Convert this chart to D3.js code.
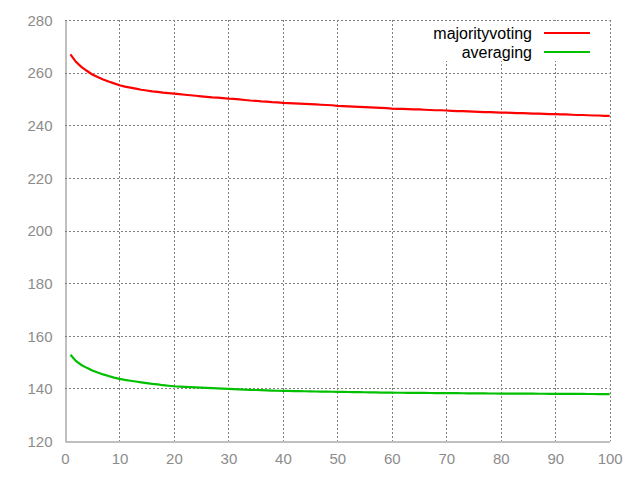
<!DOCTYPE html>
<html>
<head>
<meta charset="utf-8">
<script src="https://cdn.jsdelivr.net/npm/d3@7"></script>
<style>
html,body{margin:0;padding:0;background:#fff;}
svg{display:block;}
</style>
</head>
<body>
<svg id="chart" width="640" height="480"></svg>
<script>
const seriesNames = ["majorityvoting", "averaging"];
const seriesColors = ["#ff0000", "#00c000"];
const xTicks = [0,10,20,30,40,50,60,70,80,90,100];
const yTicks = [120,140,160,180,200,220,240,260,280];

const majorityvoting = [
266.9,264.1,262.2,260.7,259.3,258.3,257.4,256.6,255.9,255.2,
254.7,254.3,253.9,253.5,253.2,252.9,252.7,252.4,252.2,252.0,
251.8,251.6,251.4,251.2,251.0,250.8,250.6,250.5,250.3,250.1,
250.0,249.8,249.6,249.4,249.3,249.1,249.0,248.8,248.7,248.5,
248.4,248.3,248.2,248.1,248.0,247.9,247.8,247.7,247.6,247.4,
247.3,247.2,247.1,247.0,246.9,246.8,246.7,246.6,246.5,246.3,
246.2,246.2,246.1,246.0,246.0,245.9,245.8,245.7,245.7,245.6,
245.5,245.4,245.4,245.3,245.2,245.1,245.0,245.0,244.9,244.8,
244.8,244.7,244.6,244.6,244.5,244.4,244.4,244.3,244.2,244.2,
244.1,244.1,244.0,243.9,243.9,243.8,243.7,243.7,243.6,243.6
];
const averaging = [
152.8,150.4,148.9,147.8,146.8,146.0,145.3,144.7,144.1,143.6,
143.2,142.9,142.6,142.3,142.0,141.7,141.5,141.2,141.0,140.8,
140.7,140.6,140.5,140.4,140.3,140.2,140.1,140.0,139.9,139.8,
139.7,139.6,139.5,139.45,139.38,139.30,139.22,139.14,139.10,139.06,
139.02,138.98,138.94,138.90,138.86,138.82,138.77,138.74,138.71,138.68,
138.65,138.62,138.59,138.56,138.53,138.50,138.46,138.42,138.38,138.36,
138.34,138.33,138.31,138.30,138.28,138.26,138.25,138.23,138.21,138.20,
138.18,138.16,138.15,138.13,138.11,138.10,138.08,138.06,138.05,138.04,
138.03,138.02,138.00,137.99,137.98,137.97,137.96,137.95,137.94,137.93,
137.92,137.91,137.90,137.89,137.88,137.87,137.86,137.85,137.84,137.83
];
const seriesValues = [majorityvoting, averaging];

const svg = d3.select("#chart");
const mLeft = 65, mRight = 609.7, mTop = 20, mBottom = 441;
const x = d3.scaleLinear().domain([0,100]).range([mLeft,mRight]);
const y = d3.scaleLinear().domain([120,280]).range([mBottom,mTop]);

const gridColor = "#808080";
const font = "'Liberation Sans', Arial, sans-serif";

// grid
const grid = svg.append("g");
grid.selectAll(".vg").data(xTicks.filter(d=>d>0)).enter().append("line")
  .attr("x1",d=>Math.round(x(d))+0.5).attr("x2",d=>Math.round(x(d))+0.5)
  .attr("y1",mTop).attr("y2",mBottom)
  .attr("stroke",gridColor).attr("stroke-width",1).attr("stroke-dasharray","2,2");
grid.selectAll(".hg").data(yTicks.filter(d=>d>120)).enter().append("line")
  .attr("y1",d=>Math.round(y(d))+0.5).attr("y2",d=>Math.round(y(d))+0.5)
  .attr("x1",mLeft).attr("x2",mRight)
  .attr("stroke",gridColor).attr("stroke-width",1).attr("stroke-dasharray","2,2");

// axes via d3 axis
const xAxis = d3.axisBottom(x).tickValues(xTicks).tickSize(0).tickPadding(12).tickFormat(d3.format("d"));
const yAxis = d3.axisLeft(y).tickValues(yTicks).tickSize(0).tickPadding(13).tickFormat(d3.format("d"));
const gx = svg.append("g").attr("transform",`translate(0,${Math.round(mBottom)+0.5})`).call(xAxis);
const gy = svg.append("g").attr("transform",`translate(${mLeft+0.5},0)`).call(yAxis);
[gx,gy].forEach(g=>{
  g.select(".domain").attr("stroke",gridColor).attr("stroke-width",1);
  g.selectAll("text").attr("fill","#8c8c8c").attr("font-family",font).attr("font-size","15px");
});
gy.selectAll("text").attr("dy","0.35em");

// lines
const lineGen = d3.line().x((d,i)=>x(i+1)).y(d=>y(d));
seriesValues.forEach((vals,k)=>{
  svg.append("path").datum(vals)
    .attr("fill","none").attr("stroke",seriesColors[k]).attr("stroke-width",2.2)
    .attr("d",lineGen);
});

// legend
const lg = svg.append("g");
lg.append("rect").attr("x",428).attr("y",21).attr("width",178).attr("height",40).attr("fill","#fff");
seriesNames.forEach((name,k)=>{
  const yy = 33 + k*19;
  lg.append("text").attr("x",532).attr("y",yy).attr("dy","0.35em")
    .attr("text-anchor","end").attr("font-family",font).attr("font-size","16px")
    .attr("fill","#000").text(name);
  lg.append("line").attr("x1",544).attr("x2",590).attr("y1",yy).attr("y2",yy)
    .attr("stroke",seriesColors[k]).attr("stroke-width",2.2);
});
</script>
</body>
</html>
